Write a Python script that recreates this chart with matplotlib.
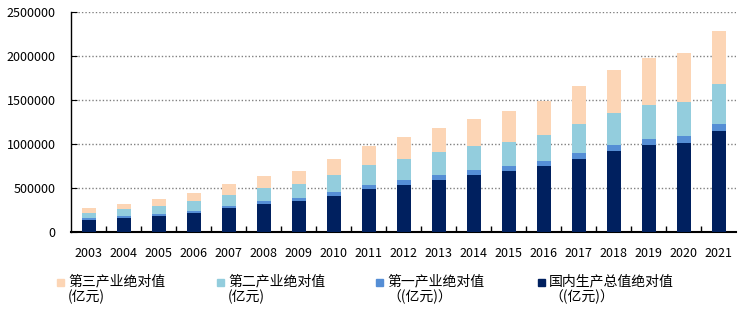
import matplotlib.pyplot as plt
from matplotlib.patches import Rectangle
import numpy as np

plt.rcParams['font.family'] = ['Noto Sans CJK SC', 'DejaVu Sans']

# data (亿元)
years = ['2003', '2004', '2005', '2006', '2007', '2008', '2009', '2010', '2011', '2012',
         '2013', '2014', '2015', '2016', '2017', '2018', '2019', '2020', '2021']
gdp = [137422, 161840, 187319, 219439, 270092, 319245, 348518, 412119, 487940, 538580,
       592963, 643563, 688858, 746395, 832036, 919281, 986515, 1015986, 1143670]
primary = [16970, 20904, 21807, 23317, 27674, 32464, 33584, 38430, 44781, 49085,
           53028, 55626, 57774, 60139, 62100, 64745, 70474, 77754, 83086]
secondary = [62695, 74285, 88082, 104359, 126630, 149952, 160168, 191626, 227035, 244639,
             261951, 277282, 281338, 295428, 331581, 364835, 380671, 384255, 450904]
tertiary = [57757, 66651, 77430, 91762, 115788, 136827, 154765, 182061, 216123, 244856,
            277983, 310654, 349745, 390828, 438355, 489701, 535371, 553977, 609680]

names = ['国内生产总值绝对值\n（(亿元)）', '第一产业绝对值\n（(亿元)）',
         '第二产业绝对值\n(亿元)', '第三产业绝对值\n(亿元)']
colors = ['#00205F', '#558ED5', '#93CDDD', '#FCD5B5']

fig = plt.figure(figsize=(7.47, 3.27), dpi=100)
ax = fig.add_axes([71 / 747, 1 - 232 / 327, 665 / 747, 220 / 327])

x = np.arange(len(years))
bottom = np.zeros(len(years))
for vals, c in zip([gdp, primary, secondary, tertiary], colors):
    ax.bar(x, vals, width=0.4, bottom=bottom, color=c, zorder=3)
    bottom += np.array(vals)

ax.set_xlim(-0.5, len(years) - 0.5)
ax.set_ylim(0, 2500000)
ax.set_yticks(np.arange(0, 2500001, 500000))
ax.set_yticklabels([str(v) for v in range(0, 2500001, 500000)])
ax.set_xticks(x)
ax.set_xticklabels(years)
ax.set_xticks(np.arange(0.5, len(years) - 0.5), minor=True)
ax.tick_params(axis='x', which='major', length=0, pad=11, labelsize=9)
ax.tick_params(axis='x', which='minor', direction='in', length=4, width=1)
ax.tick_params(axis='y', direction='in', length=4, pad=11, labelsize=9)
ax.grid(axis='y', linestyle=(0, (1, 1.5)), color='#808080', linewidth=1, zorder=0)
for s in ['top', 'right']:
    ax.spines[s].set_visible(False)
ax.spines['bottom'].set_linewidth(1.5)
ax.spines['left'].set_linewidth(1)

# legend below, reversed order
leg_x = [57, 217, 376, 538]
for i, (name, c) in enumerate(zip(names[::-1], colors[::-1])):
    px = leg_x[i]
    fig.patches.append(Rectangle((px / 747, 1 - 286 / 327), 7 / 747, 7 / 327,
                                 transform=fig.transFigure, color=c))
    fig.text((px + 11) / 747, 1 - 274 / 327, name, fontsize=10, va='top',
             ha='left', linespacing=1.15)

fig.savefig('out.png', dpi=100)
